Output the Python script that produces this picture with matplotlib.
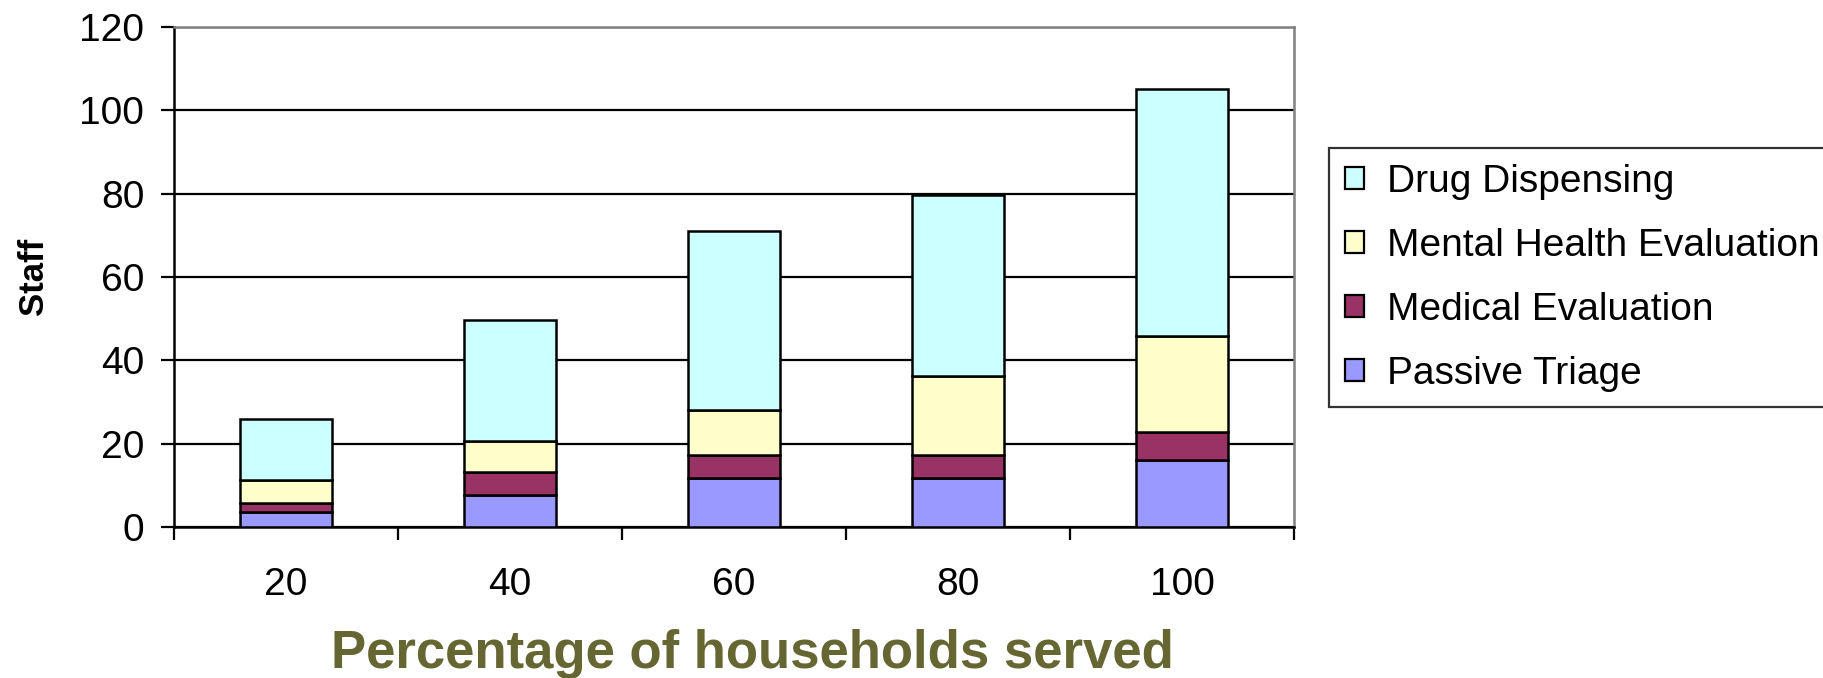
import numpy as np
import matplotlib.pyplot as plt

plt.rcParams['font.family'] = ['Liberation Sans', 'DejaVu Sans']

# staff needed per station, by percentage of households served
households = ['20', '40', '60', '80', '100']
passive_triage = [3.5, 7.8, 11.7, 11.7, 16.0]
medical_eval = [2.3, 5.5, 5.7, 5.7, 6.9]
mental_eval = [5.4, 7.4, 10.6, 18.8, 22.9]
drug_dispensing = [14.8, 28.9, 43.0, 43.5, 59.3]

series = [
    ('Passive Triage', passive_triage, '#9999FF'),
    ('Medical Evaluation', medical_eval, '#993366'),
    ('Mental Health Evaluation', mental_eval, '#FFFFCC'),
    ('Drug Dispensing', drug_dispensing, '#CCFFFF'),
]

fig = plt.figure(figsize=(18.24, 6.78), dpi=100)
ax = fig.add_axes([174 / 1824, 1 - 527 / 678, 1120 / 1824, 500 / 678])

x = np.arange(len(households))
bottom = np.zeros(len(households))
handles = []
for name, vals, col in series:
    b = ax.bar(x, vals, width=0.41, bottom=bottom, color=col,
               edgecolor='black', linewidth=1.8, label=name, zorder=3)
    handles.append(b)
    bottom += np.array(vals)

ax.set_xlim(-0.5, len(households) - 0.5)
ax.set_ylim(0, 120)
ax.set_yticks(np.arange(0, 121, 20))
ax.yaxis.grid(True, color='black', linewidth=1.6)
ax.set_axisbelow(True)

# category boundaries get the tick marks, centres get the labels
ax.set_xticks(np.arange(-0.5, len(households), 1.0))
ax.set_xticklabels([])
ax.set_xticks(x, minor=True)
ax.set_xticklabels(households, minor=True)
ax.tick_params(axis='x', which='major', direction='out', length=9,
               width=1.6, color='black')
ax.tick_params(axis='x', which='minor', length=0, pad=29, labelsize=28)
ax.tick_params(axis='y', direction='out', length=9.5, width=1.6,
               pad=12, labelsize=28)

for side in ['left', 'bottom']:
    ax.spines[side].set_color('black')
    ax.spines[side].set_linewidth(1.8)
for side in ['top', 'right']:
    ax.spines[side].set_color('#808080')
    ax.spines[side].set_linewidth(1.8)

fig.text(33 / 1824, 1 - 276 / 678, 'Staff', rotation=90, fontsize=25,
         fontweight='bold', ha='center', va='center')
fig.text(752 / 1824, 10 / 678, 'Percentage of households served',
         fontsize=38, fontweight='bold', color='#666633',
         ha='center', va='baseline')

leg = fig.legend(handles[::-1], [s[0] for s in series][::-1],
                 loc='upper left', bbox_to_anchor=(1329 / 1824, 1 - 148 / 678),
                 fontsize=28, frameon=True, fancybox=False, shadow=False,
                 handlelength=0.5, handleheight=0.5, handletextpad=0.6,
                 labelspacing=0.72, borderpad=0.4, borderaxespad=0)
leg.get_frame().set_edgecolor('black')
leg.get_frame().set_linewidth(1.6)
for h in leg.legend_handles:
    h.set_linewidth(1.6)

fig.savefig('out.png', dpi=100)
